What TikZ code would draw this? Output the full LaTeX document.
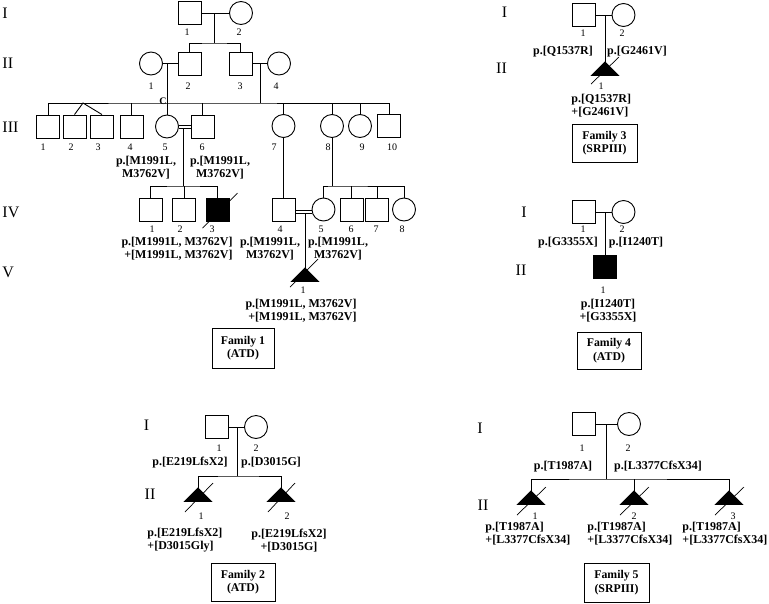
\documentclass[tikz,border=0pt]{standalone}
\usepackage{fontspec}
\setmainfont{Liberation Serif}
\usetikzlibrary{calc}
\newcommand\pregtri[1]{\filldraw (#1) -- ++(-13.5,13.5) -- ++(27,0) -- cycle;}
\begin{document}
\begin{tikzpicture}[x=1pt,y=-1pt, line width=0.9pt,
  male/.style={draw, rectangle, minimum size=23pt, inner sep=0pt},
  female/.style={draw, circle, minimum size=23pt, inner sep=0pt},
  aff/.style={fill=black},
  num/.style={font=\fontsize{10}{11}\selectfont, inner sep=0pt},
  mut/.style={font=\bfseries\fontsize{12}{13}\selectfont, inner sep=0pt, align=center},
  gen/.style={font=\fontsize{16}{18}\selectfont, inner sep=0pt},
  fam/.style={draw, font=\bfseries\fontsize{11.8}{13.5}\selectfont, align=center, inner sep=0pt},
  slash/.style={line width=0.7pt}]
\useasboundingbox (0,0) rectangle (769,603);

% ================= Family 1 =================
\node[gen, anchor=west] (f1gI) at (2,13) {I};
\node[gen, anchor=west] (f1gII) at (2,63) {II};
\node[gen, anchor=west] (f1gIII) at (2,127) {III};
\node[gen, anchor=west] (f1gIV) at (2,212) {IV};
\node[gen, anchor=west] (f1gV) at (2,272) {V};

\node[male] (f1i1) at (189.5,13) {};
\node[female] (f1i2) at (241,13) {};
\node[female] (f1ii1) at (151,63.5) {};
\node[male] (f1ii2) at (189.5,63.5) {};
\node[male] (f1ii3) at (240.5,63.5) {};
\node[female] (f1ii4) at (279,63.5) {};
\node[male] (f1iii1) at (48,126.5) {};
\node[male] (f1iii2) at (74.5,126.5) {};
\node[male] (f1iii3) at (102,126.5) {};
\node[male] (f1iii4) at (131.5,126.5) {};
\node[female] (f1iii5) at (167,126.5) {};
\node[male] (f1iii6) at (202.5,126.5) {};
\node[female] (f1iii7) at (283.5,126) {};
\node[female] (f1iii8) at (332,126) {};
\node[female] (f1iii9) at (360,126) {};
\node[male] (f1iii10) at (389,126) {};
\node[male] (f1iv1) at (150.5,209.5) {};
\node[male] (f1iv2) at (184,209.5) {};
\node[male, aff] (f1iv3) at (217.5,209.5) {};
\node[male] (f1iv4) at (283.5,209.5) {};
\node[female] (f1iv5) at (323.5,209.5) {};
\node[male] (f1iv6) at (351.5,209.5) {};
\node[male] (f1iv7) at (377,209.5) {};
\node[female] (f1iv8) at (404,209.5) {};
\coordinate (f1v1) at (305,268);
\pregtri{f1v1}

% connectors
\coordinate (f1m1) at (214,13);
\coordinate (f1s1) at (214,43);
\draw (f1i1.east) -- (f1i2.west);
\draw (f1m1) -- (f1s1);
\draw (f1ii2.north) |- (f1s1) -| (f1ii3.north);
\draw (f1ii1.east) -- (f1ii2.west);
\draw (f1ii3.east) -- (f1ii4.west);
\coordinate (f1m2) at (167,63.5);
\coordinate (f1s2) at (167,103);
\coordinate (f1m3) at (260,63.5);
\coordinate (f1s3) at (260,103);
\coordinate (f1tw) at (83,103);
\draw (f1m2) -- (f1s2);
\draw (f1m3) -- (f1s3);
\draw (f1iii1.north) |- (f1s2) -| (f1iii10.north);
\draw (f1iii2.north) -- (f1tw) -- (f1iii3.north);
\foreach \p in {f1iii4,f1iii5,f1iii6,f1iii7,f1iii8,f1iii9}
  \draw (\p.north) -- (\p.north |- f1s2);
\node[font=\bfseries\fontsize{10}{11}\selectfont, inner sep=0pt] (f1c) at (163,101) {C};
% III-5 x III-6 consanguineous
\draw ([yshift=1.5pt]f1iii5.east) -- ([yshift=1.5pt]f1iii6.west);
\draw ([yshift=-1.5pt]f1iii5.east) -- ([yshift=-1.5pt]f1iii6.west);
\coordinate (f1m4) at (183,128);
\coordinate (f1s4) at (183,186);
\draw (f1m4) -- (f1s4);
\draw (f1iv1.north) |- (f1s4) -| (f1iv3.north);
\draw (f1iv2.north) -- (f1iv2.north |- f1s4);
% III-7 -> IV-4
\draw (f1iii7.south) -- (f1iv4.north);
% III-8 sibship
\coordinate (f1s5) at (332,186);
\draw (f1iii8.south) -- (f1s5);
\draw (f1iv5.north) |- (f1s5) -| (f1iv8.north);
\foreach \p in {f1iv6,f1iv7}
  \draw (\p.north) -- (\p.north |- f1s5);
% IV-4 x IV-5 consanguineous
\draw ([yshift=-1.2pt]f1iv4.east) -- ([yshift=-1.2pt]f1iv5.west);
\draw ([yshift=-4.2pt]f1iv4.east) -- ([yshift=-4.2pt]f1iv5.west);
\coordinate (f1m5) at (305,213.7);
\draw (f1m5) -- (f1v1);
% deceased marks
\draw[slash] ($(f1iv3)+(-15,18.5)$) -- ($(f1iv3)+(20,-16.5)$);
\draw[slash] ($(f1v1)+(-15,19)$) -- ($(f1v1)+(13,-9)$);

% numbers
\node[num] (f1ni1) at (187,32) {1};
\node[num] (f1ni2) at (239,32) {2};
\foreach \x/\t in {151/1,188/2,240/3,276/4}
  \node[num] (f1nii\t) at (\x,86) {\t};
\foreach \x/\t in {43/1,71/2,98/3,130/4,165/5,202/6,274/7,328/8,362/9,392/10}
  \node[num] (f1niii\t) at (\x,147) {\t};
\foreach \x/\t in {152/1,180/2,212/3,280/4,321/5,351/6,376/7,402/8}
  \node[num] (f1niv\t) at (\x,229) {\t};
\node[num] (f1nv1) at (303,290) {1};

% mutations
\node[mut] (f1iii5m) at (146,167.5) {p.[M1991L,\\ M3762V]};
\node[mut] (f1iii6m) at (220,167.5) {p.[M1991L,\\ M3762V]};
\node[mut, anchor=east, align=right] (f1ivm) at (233,249) {p.[M1991L, M3762V]\\+[M1991L, M3762V]};
\node[mut] (f1iv4m) at (270,249) {p.[M1991L,\\ M3762V]};
\node[mut] (f1iv5m) at (338,249) {p.[M1991L,\\ M3762V]};
\node[mut, anchor=east, align=right] (f1v1m) at (357,310.5) {p.[M1991L, M3762V]\\+[M1991L, M3762V]};
\node[fam, minimum width=62pt, minimum height=40pt] (f1box) at (243,348) {Family 1\\(ATD)};

% ================= Family 2 =================
\node[gen] (f2gI) at (146.5,425) {I};
\node[gen] (f2gII) at (150,494) {II};
\node[male] (f2i1) at (216.5,427) {};
\node[female] (f2i2) at (256,427) {};
\coordinate (f2t1) at (198,488);
\coordinate (f2t2) at (281,488);
\pregtri{f2t1}
\pregtri{f2t2}
\draw (f2i1.east) -- (f2i2.west);
\coordinate (f2m) at (237,427);
\coordinate (f2s) at (237,476);
\draw (f2m) -- (f2s);
\draw (f2t1) |- (f2s) -| (f2t2);
\draw[slash] ($(f2t1)+(-13,24)$) -- ($(f2t1)+(15,-5)$);
\draw[slash] ($(f2t2)+(-13,24)$) -- ($(f2t2)+(14,-5)$);
\node[num] (f2ni1) at (219,448) {1};
\node[num] (f2ni2) at (256,448) {2};
\node[num] (f2nii1) at (201,516) {1};
\node[num] (f2nii2) at (287,516) {2};
\node[mut] (f2i1m) at (190,463) {p.[E219LfsX2]};
\node[mut] (f2i2m) at (271,463) {p.[D3015G]};
\node[mut, anchor=west, align=left] (f2ii1m) at (147,540.5) {p.[E219LfsX2]\\+[D3015Gly]};
\node[mut] (f2ii2m) at (289,540.5) {p.[E219LfsX2]\\+[D3015G]};
\node[fam, minimum width=64pt, minimum height=38pt] (f2box) at (243,582) {Family 2\\(ATD)};

% ================= Family 3 =================
\node[gen] (f3gI) at (504.5,12) {I};
\node[gen] (f3gII) at (501.5,68) {II};
\node[male] (f3i1) at (583.5,15) {};
\node[female] (f3i2) at (623.5,15) {};
\coordinate (f3t1) at (605,62);
\pregtri{f3t1}
\draw (f3i1.east) -- (f3i2.west);
\coordinate (f3m) at (605,15);
\draw (f3m) -- (f3t1);
\draw[slash] ($(f3t1)+(-14,22)$) -- ($(f3t1)+(14,-5)$);
\node[num] (f3ni1) at (583,33) {1};
\node[num] (f3ni2) at (622,33) {2};
\node[num] (f3nii1) at (601,86) {1};
\node[mut] (f3i1m) at (563,52) {p.[Q1537R]};
\node[mut] (f3i2m) at (637,52) {p.[G2461V]};
\node[mut, anchor=west, align=left] (f3ii1m) at (571,106) {p.[Q1537R]\\+[G2461V]};
\node[fam, minimum width=65pt, minimum height=38pt] (f3box) at (604.5,143) {Family 3\\(SRPIII)};

% ================= Family 4 =================
\node[gen] (f4gI) at (524,212) {I};
\node[gen] (f4gII) at (521,270) {II};
\node[male] (f4i1) at (583.5,212) {};
\node[female] (f4i2) at (623.5,212) {};
\node[male, aff] (f4ii1) at (605,266.5) {};
\draw (f4i1.east) -- (f4i2.west);
\coordinate (f4m) at (605,212);
\draw (f4m) -- (f4ii1.north);
\node[num] (f4ni1) at (583,229) {1};
\node[num] (f4ni2) at (622,229) {2};
\node[num] (f4nii1) at (603,290) {1};
\node[mut] (f4i1m) at (568,243) {p.[G3355X]};
\node[mut] (f4i2m) at (636,243) {p.[I1240T]};
\node[mut] (f4ii1m) at (608,310.5) {p.[I1240T]\\+[G3355X]};
\node[fam, minimum width=64pt, minimum height=37pt] (f4box) at (609,350.5) {Family 4\\(ATD)};

% ================= Family 5 =================
\node[gen] (f5gI) at (480,428) {I};
\node[gen] (f5gII) at (483,505) {II};
\node[male] (f5i1) at (583.5,424) {};
\node[female] (f5i2) at (629,424) {};
\coordinate (f5t1) at (531,491);
\coordinate (f5t2) at (634,491);
\coordinate (f5t3) at (729,491);
\pregtri{f5t1}
\pregtri{f5t2}
\pregtri{f5t3}
\draw (f5i1.east) -- (f5i2.west);
\coordinate (f5m) at (606,424);
\coordinate (f5s) at (606,479);
\draw (f5m) -- (f5s);
\draw (f5t1) |- (f5s) -| (f5t3);
\draw (f5t2) -- (f5t2 |- f5s);
\foreach \t in {f5t1,f5t2,f5t3}
  \draw[slash] ($(\t)+(-14,24)$) -- ($(\t)+(15,-4)$);
\node[num] (f5ni1) at (582,448) {1};
\node[num] (f5ni2) at (628,448) {2};
\node[num] (f5nii1) at (535,516) {1};
\node[num] (f5nii2) at (634,516) {2};
\node[num] (f5nii3) at (733,516) {3};
\node[mut] (f5i1m) at (563,467) {p.[T1987A]};
\node[mut] (f5i2m) at (658,467) {p.[L3377CfsX34]};
\node[mut, anchor=west, align=left] (f5ii1m) at (485,534) {p.[T1987A]\\+[L3377CfsX34]};
\node[mut, anchor=west, align=left] (f5ii2m) at (587,534) {p.[T1987A]\\+[L3377CfsX34]};
\node[mut, anchor=west, align=left] (f5ii3m) at (682,534) {p.[T1987A]\\+[L3377CfsX34]};
\node[fam, minimum width=65pt, minimum height=39pt] (f5box) at (616.5,582.5) {Family 5\\(SRPIII)};
\end{tikzpicture}
\end{document}
